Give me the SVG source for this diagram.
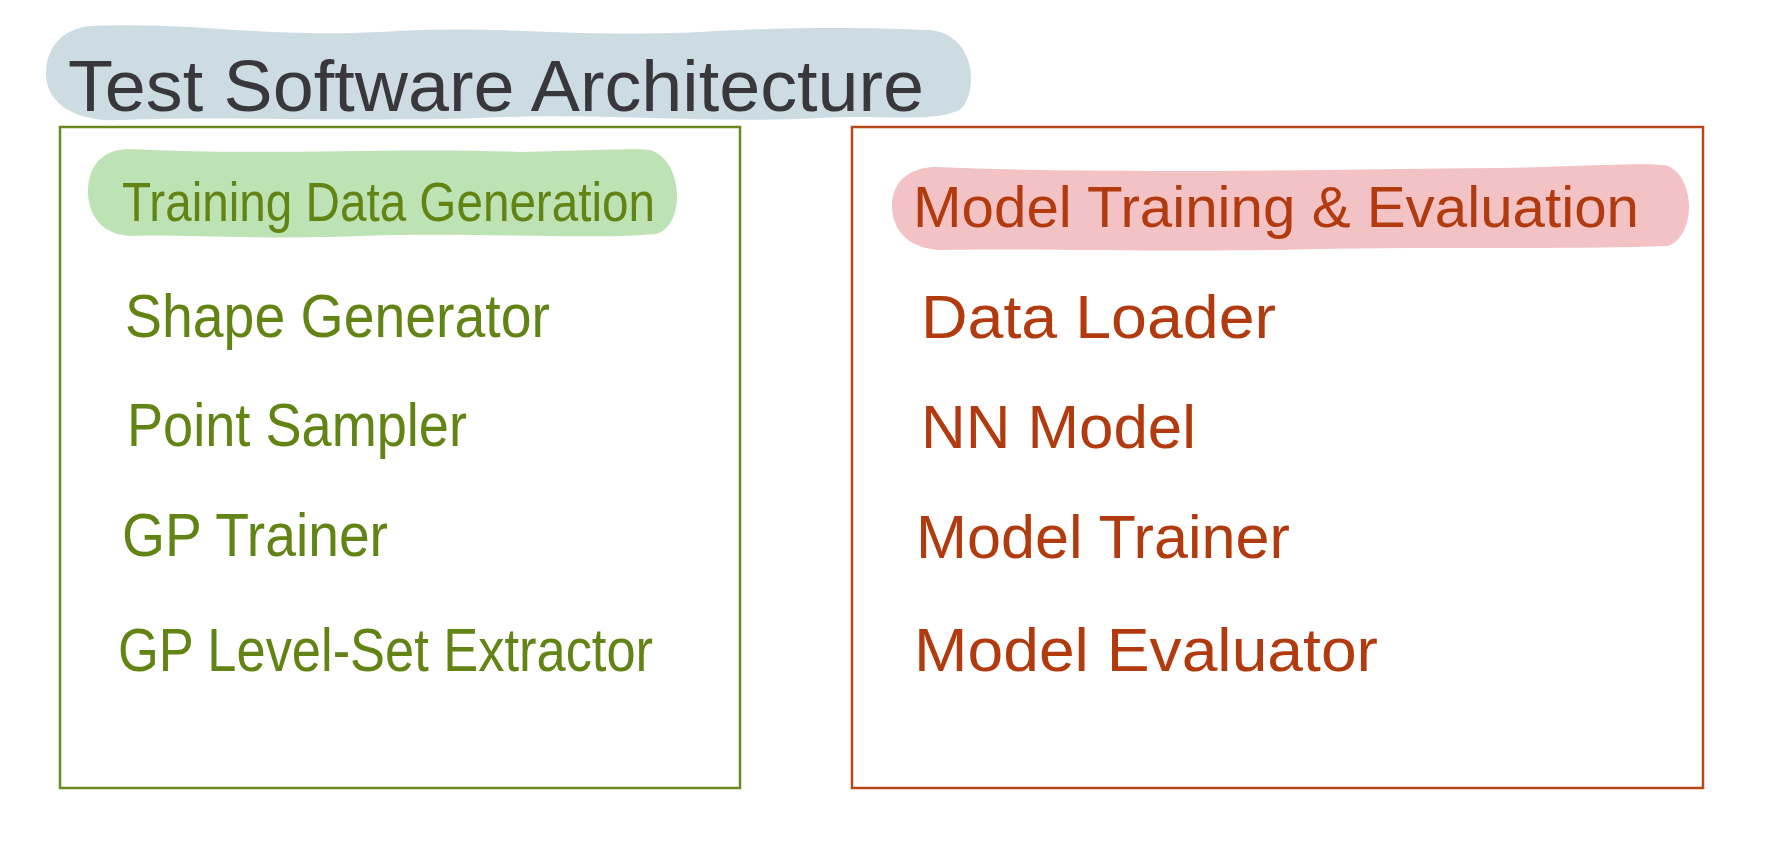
<svg xmlns="http://www.w3.org/2000/svg" width="1778" height="856" viewBox="0 0 1778 856">
<style>
.t{font-family:"Liberation Sans","DejaVu Sans",sans-serif;font-weight:normal}
.title{fill:#38383c;font-size:72px}
.g{fill:#628414;font-size:62px}
.gh{fill:#628414;font-size:56px}
.r{fill:#b13b0e;font-size:62px}
.rh{fill:#b13b0e;font-size:58px}
.gbox{fill:none;stroke:#6a8a1e;stroke-width:2.5}
.rbox{fill:none;stroke:#b8471b;stroke-width:2.5}
</style>
<rect width="1778" height="856" fill="#ffffff"/>
<g id="title">
<path d="M92,26 C200,22 260,38 380,32 C500,24 560,38 700,32 C800,26 880,28 930,30 C972,34 980,84 962,108 C940,124 880,114 820,118 C700,124 600,112 480,118 C360,122 240,116 120,120 C70,122 46,100 46,74 C46,48 62,28 92,26 Z" fill="#cddbe3"/>
<text class="t title" x="68" y="111" textLength="856" lengthAdjust="spacingAndGlyphs">Test Software Architecture</text>
</g>
<g id="training-data-generation">
<rect class="gbox" x="60" y="127" width="680" height="661"/>
<path d="M128,149 C260,156 400,147 520,152 C600,150 640,148 650,150 C684,160 686,226 656,234 C600,240 480,232 360,236 C260,240 180,234 130,236 C96,234 88,208 88,192 C88,168 100,150 128,149 Z" fill="#bde2b4"/>
<text class="t gh" x="122" y="221" textLength="533" lengthAdjust="spacingAndGlyphs">Training Data Generation</text>
<text class="t g" x="125" y="337" textLength="425" lengthAdjust="spacingAndGlyphs">Shape Generator</text>
<text class="t g" x="127" y="446" textLength="340" lengthAdjust="spacingAndGlyphs">Point Sampler</text>
<text class="t g" x="122" y="556" textLength="266" lengthAdjust="spacingAndGlyphs">GP Trainer</text>
<text class="t g" x="118" y="671" textLength="535" lengthAdjust="spacingAndGlyphs">GP Level-Set Extractor</text>
</g>
<g id="model-training-evaluation">
<rect class="rbox" x="852" y="127" width="851" height="661"/>
<path d="M935,167 C1100,174 1300,170 1500,168 C1600,166 1650,162 1668,166 C1696,178 1696,236 1668,246 C1560,250 1420,246 1280,250 C1140,252 1020,248 940,250 C904,248 892,226 892,206 C892,184 906,168 935,167 Z" fill="#f3c2c4"/>
<text class="t rh" x="913" y="227" textLength="726" lengthAdjust="spacingAndGlyphs">Model Training &amp; Evaluation</text>
<text class="t r" x="921" y="338" textLength="355" lengthAdjust="spacingAndGlyphs">Data Loader</text>
<text class="t r" x="921" y="448" textLength="275" lengthAdjust="spacingAndGlyphs">NN Model</text>
<text class="t r" x="916" y="558" textLength="374" lengthAdjust="spacingAndGlyphs">Model Trainer</text>
<text class="t r" x="914" y="671" textLength="464" lengthAdjust="spacingAndGlyphs">Model Evaluator</text>
</g>
<g id="connectors"></g>
</svg>
